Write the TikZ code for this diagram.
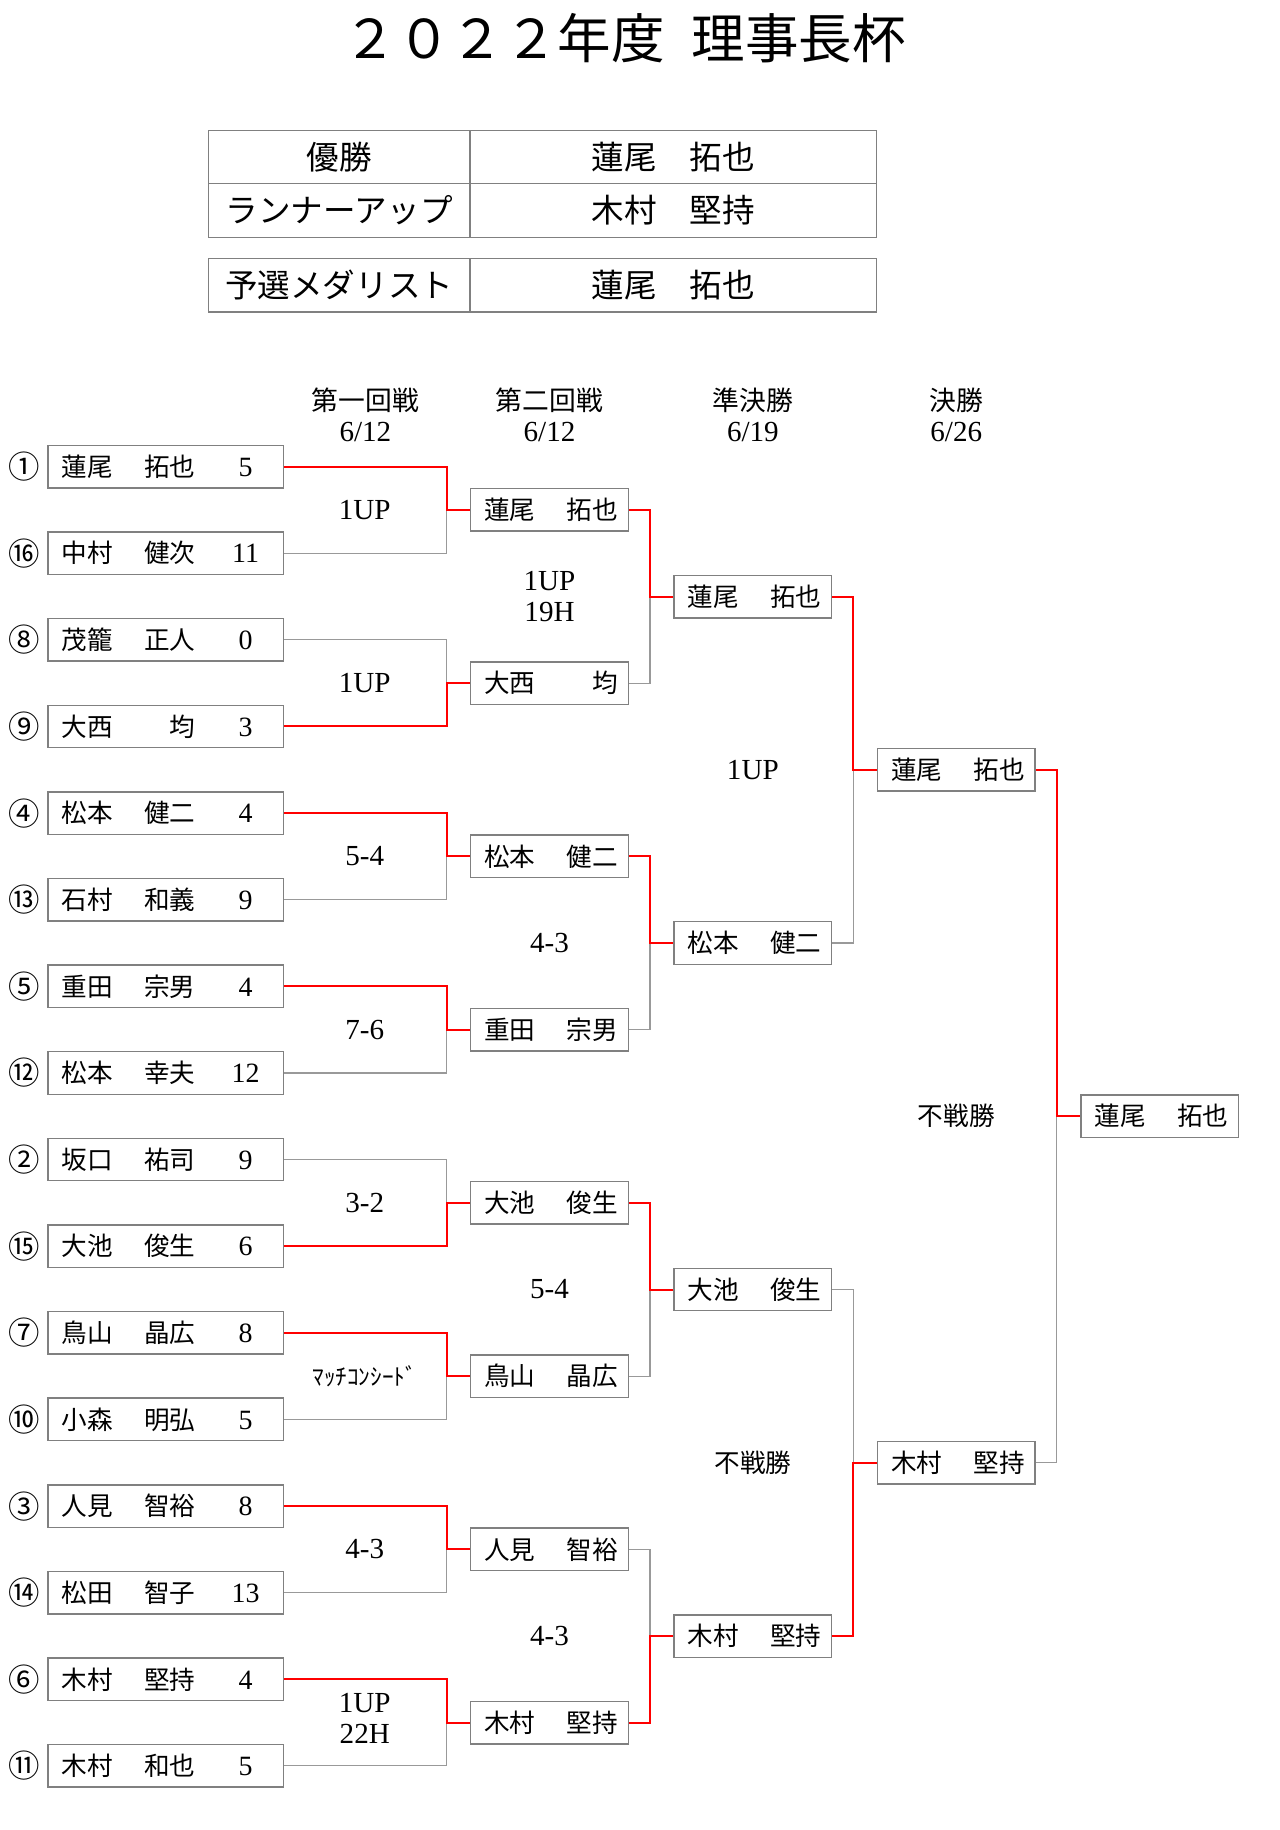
\documentclass[tikz,border=0pt]{standalone}
\usepackage{fontspec}
\setmainfont{Liberation Serif}
\newfontfamily\cjk{Noto Sans CJK JP}
\usepackage{tikz}
\usetikzlibrary{positioning}
\usepackage{xcolor}
\definecolor{boxgray}{gray}{0.5}
\definecolor{linegray}{gray}{0.6}
\newcommand{\fsz}[1]{\fontsize{#1}{#1}\selectfont}
\newcommand{\entrant}[3]{\hspace{11.6pt}\makebox[115pt]{\cjk #1\hfill #2}\hspace{43pt}\makebox[0pt]{\fsz{24}#3}\hspace{32.5pt}\null}
\newcommand{\victor}[2]{\hspace{11.5pt}\makebox[115pt]{\cjk #1\hfill #2}\hspace{8.5pt}\null}
\tikzset{
 pbox/.style={draw=boxgray, line width=1.2pt, inner sep=0pt, minimum height=36.5pt, font=\fsz{22}},
 firstbox/.style={pbox, minimum width=202.5pt},
 nextbox/.style={pbox, minimum width=135.5pt},
 seed/.style={font=\cjk\fsz{27}},
 cell/.style={draw=boxgray, line width=1.2pt, inner sep=0pt, font=\cjk\fsz{28}},
 result/.style={font=\fontsize{25}{27}\selectfont, align=center},
 lose/.style={draw=linegray, line width=1pt},
 win/.style={draw=red, line width=1.7pt},
}

\begin{document}
\begin{tikzpicture}[x=1pt,y=-1pt]
\useasboundingbox (0,0) rectangle (1100,1572.7);
\node[font=\cjk\fsz{46}] (title) at (537,33) {２０２２年度\hspace{0.5em}理事長杯};

\node[cell, minimum width=225pt, minimum height=45.6pt] (wina) at (291.5,134.8) {優勝};
\node[cell, minimum width=349pt, minimum height=45.6pt] (winb) at (578.5,134.8) {蓮尾　拓也};
\node[cell, minimum width=225pt, minimum height=46.4pt] (runa) at (291.5,180.8) {ランナーアップ};
\node[cell, minimum width=349pt, minimum height=46.4pt] (runb) at (578.5,180.8) {木村　堅持};
\node[cell, minimum width=225pt, minimum height=46pt] (meda) at (291.5,245) {予選メダリスト};
\node[cell, minimum width=349pt, minimum height=46pt] (medb) at (578.5,245) {蓮尾　拓也};

\node[result] (day1) at (314,356.5) {{\cjk\fsz{23}第一回戦}\\6/12};
\node[result] (day2) at (472.25,356.5) {{\cjk\fsz{23}第二回戦}\\6/12};
\node[result] (day3) at (647,356.5) {{\cjk\fsz{23}準決勝}\\6/19};
\node[result] (day4) at (821.8,356.5) {{\cjk\fsz{23}決勝}\\6/26};

\node[seed] (n1) at (21,401) {①};
\node[seed] (n16) at (21,475.4) {⑯};
\node[seed] (n8) at (21,549.9) {⑧};
\node[seed] (n9) at (21,624.3) {⑨};
\node[seed] (n4) at (21,698.8) {④};
\node[seed] (n13) at (21,773.2) {⑬};
\node[seed] (n5) at (21,847.6) {⑤};
\node[seed] (n12) at (21,922.1) {⑫};
\node[seed] (n2) at (21,996.5) {②};
\node[seed] (n15) at (21,1071) {⑮};
\node[seed] (n7) at (21,1145.4) {⑦};
\node[seed] (n10) at (21,1219.8) {⑩};
\node[seed] (n3) at (21,1294.3) {③};
\node[seed] (n14) at (21,1368.7) {⑭};
\node[seed] (n6) at (21,1443.2) {⑥};
\node[seed] (n11) at (21,1517.6) {⑪};

\node[firstbox] (s1) at (142.5,401) {\entrant{蓮尾}{拓也}{5}};
\node[firstbox] (s16) at (142.5,475.4) {\entrant{中村}{健次}{11}};
\node[firstbox] (s8) at (142.5,549.9) {\entrant{茂籠}{正人}{0}};
\node[firstbox] (s9) at (142.5,624.3) {\entrant{大西}{均}{3}};
\node[firstbox] (s4) at (142.5,698.8) {\entrant{松本}{健二}{4}};
\node[firstbox] (s13) at (142.5,773.2) {\entrant{石村}{和義}{9}};
\node[firstbox] (s5) at (142.5,847.6) {\entrant{重田}{宗男}{4}};
\node[firstbox] (s12) at (142.5,922.1) {\entrant{松本}{幸夫}{12}};
\node[firstbox] (s2) at (142.5,996.5) {\entrant{坂口}{祐司}{9}};
\node[firstbox] (s15) at (142.5,1071) {\entrant{大池}{俊生}{6}};
\node[firstbox] (s7) at (142.5,1145.4) {\entrant{鳥山}{晶広}{8}};
\node[firstbox] (s10) at (142.5,1219.8) {\entrant{小森}{明弘}{5}};
\node[firstbox] (s3) at (142.5,1294.3) {\entrant{人見}{智裕}{8}};
\node[firstbox] (s14) at (142.5,1368.7) {\entrant{松田}{智子}{13}};
\node[firstbox] (s6) at (142.5,1443.2) {\entrant{木村}{堅持}{4}};
\node[firstbox] (s11) at (142.5,1517.6) {\entrant{木村}{和也}{5}};

\node[nextbox] (q1) at (472.25,438.2) {\victor{蓮尾}{拓也}};
\node[nextbox] (q2) at (472.25,587.1) {\victor{大西}{均}};
\node[nextbox] (q3) at (472.25,736) {\victor{松本}{健二}};
\node[nextbox] (q4) at (472.25,884.9) {\victor{重田}{宗男}};
\node[nextbox] (q5) at (472.25,1033.7) {\victor{大池}{俊生}};
\node[nextbox] (q6) at (472.25,1182.6) {\victor{鳥山}{晶広}};
\node[nextbox] (q7) at (472.25,1331.5) {\victor{人見}{智裕}};
\node[nextbox] (q8) at (472.25,1480.4) {\victor{木村}{堅持}};

\node[nextbox] (h1) at (647,512.7) {\victor{蓮尾}{拓也}};
\node[nextbox] (h2) at (647,810.4) {\victor{松本}{健二}};
\node[nextbox] (h3) at (647,1108.2) {\victor{大池}{俊生}};
\node[nextbox] (h4) at (647,1406) {\victor{木村}{堅持}};

\node[nextbox] (f1) at (821.8,661.5) {\victor{蓮尾}{拓也}};
\node[nextbox] (f2) at (821.8,1257.1) {\victor{木村}{堅持}};

\node[nextbox] (champ) at (996.6,959.3) {\victor{蓮尾}{拓也}};

\node[result] (m1) at (313.5,438.2) {1UP};
\node[result] (m2) at (313.5,587.1) {1UP};
\node[result] (m3) at (313.5,736) {5-4};
\node[result] (m4) at (313.5,884.9) {7-6};
\node[result] (m5) at (313.5,1033.7) {3-2};
\node[result] (m6) at (313.5,1182.6) {\cjk\fsz{20}ﾏｯﾁｺﾝｼｰﾄﾞ};
\node[result] (m7) at (313.5,1331.5) {4-3};
\node[result] (m8) at (313.5,1477) {1UP\\22H};
\node[result] (k1) at (472.25,512.7) {1UP\\19H};
\node[result] (k2) at (472.25,810.4) {4-3};
\node[result] (k3) at (472.25,1108.2) {5-4};
\node[result] (k4) at (472.25,1406) {4-3};
\node[result] (j1) at (647,661.5) {1UP};
\node[result] (j2) at (647,1257.1) {\cjk\fsz{22}不戦勝};
\node[result] (g1) at (821.8,959.3) {\cjk\fsz{22}不戦勝};

\draw[lose] (s16.east) -| ([xshift=-20pt]q1.west);
\draw[lose] (s8.east) -| ([xshift=-20pt]q2.west);
\draw[lose] (s13.east) -| ([xshift=-20pt]q3.west);
\draw[lose] (s12.east) -| ([xshift=-20pt]q4.west);
\draw[lose] (s2.east) -| ([xshift=-20pt]q5.west);
\draw[lose] (s10.east) -| ([xshift=-20pt]q6.west);
\draw[lose] (s14.east) -| ([xshift=-20pt]q7.west);
\draw[lose] (s11.east) -| ([xshift=-20pt]q8.west);
\draw[lose] (q2.east) -| ([xshift=-20pt]h1.west);
\draw[lose] (q4.east) -| ([xshift=-20pt]h2.west);
\draw[lose] (q6.east) -| ([xshift=-20pt]h3.west);
\draw[lose] (q7.east) -| ([xshift=-20pt]h4.west);
\draw[lose] (h2.east) -| ([xshift=-20pt]f1.west);
\draw[lose] (h3.east) -| ([xshift=-20pt]f2.west);
\draw[lose] (f2.east) -| ([xshift=-20pt]champ.west);

\draw[win] (s1.east) -| ([xshift=-20pt]q1.west) -- (q1.west);
\draw[win] (s9.east) -| ([xshift=-20pt]q2.west) -- (q2.west);
\draw[win] (s4.east) -| ([xshift=-20pt]q3.west) -- (q3.west);
\draw[win] (s5.east) -| ([xshift=-20pt]q4.west) -- (q4.west);
\draw[win] (s15.east) -| ([xshift=-20pt]q5.west) -- (q5.west);
\draw[win] (s7.east) -| ([xshift=-20pt]q6.west) -- (q6.west);
\draw[win] (s3.east) -| ([xshift=-20pt]q7.west) -- (q7.west);
\draw[win] (s6.east) -| ([xshift=-20pt]q8.west) -- (q8.west);
\draw[win] (q1.east) -| ([xshift=-20pt]h1.west) -- (h1.west);
\draw[win] (q3.east) -| ([xshift=-20pt]h2.west) -- (h2.west);
\draw[win] (q5.east) -| ([xshift=-20pt]h3.west) -- (h3.west);
\draw[win] (q8.east) -| ([xshift=-20pt]h4.west) -- (h4.west);
\draw[win] (h1.east) -| ([xshift=-20pt]f1.west) -- (f1.west);
\draw[win] (h4.east) -| ([xshift=-20pt]f2.west) -- (f2.west);
\draw[win] (f1.east) -| ([xshift=-20pt]champ.west) -- (champ.west);
\end{tikzpicture}
\end{document}
